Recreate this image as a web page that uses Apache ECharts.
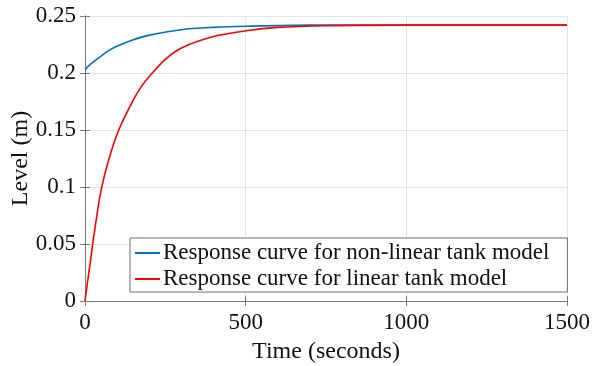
<!DOCTYPE html>
<html>
<head>
<meta charset="utf-8">
<script src="https://cdn.jsdelivr.net/npm/echarts@6/dist/echarts.min.js"></script>
<style>
html, body { margin: 0; padding: 0; background: #fff; }
#chart { width: 592px; height: 366px; }
</style>
</head>
<body>
<div id="chart"></div>
<script>
// values (time in seconds, level in m)
var nonLinearTime = [0, 10, 20, 30, 43, 70, 94, 146, 198, 300, 400, 500, 700, 1000, 1500];
var nonLinearLevel = [0.203, 0.2058, 0.2084, 0.2107, 0.2133, 0.219, 0.2228, 0.2288, 0.233, 0.238, 0.240, 0.241, 0.242, 0.242, 0.242];
var linearTime = [0, 8, 15, 22, 30, 50, 75, 105, 146, 175, 200, 250, 300, 400, 500, 600, 750, 1000, 1500];
var linearLevel = [0, 0.017, 0.031, 0.046, 0.062, 0.097, 0.125, 0.150, 0.174, 0.188, 0.197, 0.212, 0.222, 0.232, 0.237, 0.240, 0.2415, 0.242, 0.242];
var xTicks = [0, 500, 1000, 1500];
var yTicks = [0, 0.05, 0.1, 0.15, 0.2, 0.25];
var seriesNames = ['Response curve for non-linear tank model', 'Response curve for linear tank model'];

function pairs(xs, ys) {
    var out = [];
    for (var i = 0; i < xs.length; i++) out.push([xs[i], ys[i]]);
    return out;
}

var font = '"Liberation Serif", "Times New Roman", serif';
var frameColor = '#7a7a7a';

var chart = echarts.init(document.getElementById('chart'));
var option = {
    backgroundColor: '#fff',
    animation: false,
    textStyle: { fontFamily: font },
    grid: { left: 85, right: 25, top: 16, bottom: 65, outerBoundsMode: 'none', containLabel: false },
    legend: {
        data: seriesNames,
        orient: 'vertical',
        left: 130,
        top: 238,
        padding: [2, 18, 0, 5],
        itemGap: 0,
        itemWidth: 25,
        itemHeight: 2,
        icon: 'rect',
        backgroundColor: '#fff',
        borderColor: '#6e6e6e',
        borderWidth: 1,
        borderRadius: 0,
        textStyle: { fontFamily: font, fontSize: 23, color: '#111', lineHeight: 26, padding: [0, 0, 0, -2] }
    },
    xAxis: [{
        type: 'value',
        min: 0, max: 1500, interval: 500,
        name: 'Time (seconds)',
        nameLocation: 'middle',
        nameGap: 39,
        nameMoveOverlap: false,
        nameTextStyle: { fontFamily: font, fontSize: 24, color: '#111' },
        axisLine: { show: true, lineStyle: { color: frameColor, width: 1 } },
        axisTick: { show: true, inside: true, length: 5, lineStyle: { color: frameColor } },
        axisLabel: {
            fontFamily: font, fontSize: 23, color: '#111', margin: 10,
            formatter: function (v) { return xTicks.indexOf(v) >= 0 ? String(v) : ''; }
        },
        splitLine: { show: true, lineStyle: { color: '#e4e4e4', width: 1 } }
    }, {
        type: 'value',
        position: 'top',
        min: 0, max: 1500, interval: 500,
        axisLine: { show: true, lineStyle: { color: frameColor, width: 1 } },
        axisTick: { show: true, inside: true, length: 5, lineStyle: { color: frameColor } },
        axisLabel: { show: false },
        splitLine: { show: false }
    }],
    yAxis: [{
        type: 'value',
        min: 0, max: 0.25, interval: 0.05,
        name: 'Level (m)',
        nameLocation: 'middle',
        nameGap: 52,
        nameMoveOverlap: false,
        nameRotate: 90,
        nameTextStyle: { fontFamily: font, fontSize: 24, color: '#111' },
        axisLine: { show: true, lineStyle: { color: frameColor, width: 1 } },
        axisTick: { show: true, inside: true, length: 5, lineStyle: { color: frameColor } },
        axisLabel: {
            fontFamily: font, fontSize: 23, color: '#111', margin: 9,
            formatter: function (v) {
                var r = Math.round(v * 100) / 100;
                return yTicks.indexOf(r) >= 0 ? String(r) : '';
            }
        },
        splitLine: { show: true, lineStyle: { color: '#e4e4e4', width: 1 } }
    }, {
        type: 'value',
        position: 'right',
        min: 0, max: 0.25, interval: 0.05,
        axisLine: { show: true, lineStyle: { color: frameColor, width: 1 } },
        axisTick: { show: true, inside: true, length: 5, lineStyle: { color: frameColor } },
        axisLabel: { show: false },
        splitLine: { show: false }
    }],
    series: [{
        name: seriesNames[0],
        type: 'line',
        data: pairs(nonLinearTime, nonLinearLevel),
        smooth: 0.3,
        showSymbol: false,
        symbol: 'none',
        itemStyle: { color: '#0072BD' },
        lineStyle: { color: '#0072BD', width: 1.6 },
        z: 3
    }, {
        name: seriesNames[1],
        type: 'line',
        data: pairs(linearTime, linearLevel),
        smooth: 0.3,
        showSymbol: false,
        symbol: 'none',
        itemStyle: { color: '#FF0000' },
        lineStyle: { color: '#FF0000', width: 1.6 },
        z: 4
    }]
};
chart.setOption(option);
</script>
</body>
</html>
